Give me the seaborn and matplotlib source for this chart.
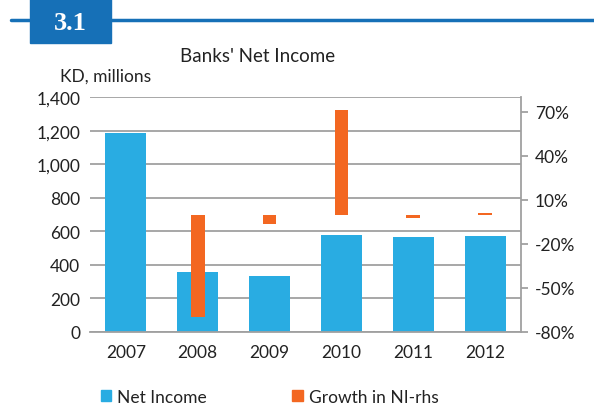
import matplotlib
matplotlib.use("Agg")
import matplotlib.pyplot as plt
import seaborn as sns
import numpy as np
import pandas as pd
from matplotlib.patches import Rectangle, Patch
from matplotlib.lines import Line2D
from matplotlib.ticker import FuncFormatter

years = ["2007", "2008", "2009", "2010", "2011", "2012"]
net_income = [1185, 357, 334, 578, 566, 573]
growth = [np.nan, -69.9, -6.3, 71.5, -2.2, 1.3]
left_ticks = [0, 200, 400, 600, 800, 1000, 1200, 1400]
right_ticks = [-80, -50, -20, 10, 40, 70]

BLUE = "#29ACE2"
ORANGE = "#F36721"
HEADER = "#1670B7"
GRID = "#A0A0A0"
TXT = "#222222"

sns.set_theme(style="white")
plt.rcParams["font.family"] = ["Lato", "DejaVu Sans"]

W, H = 594, 410
fig = plt.figure(figsize=(W / 100, H / 100), dpi=100)

x0, x1, ytop, ybot = 90, 521, 98.3, 332.7
ax = fig.add_axes([x0 / W, 1 - ybot / H, (x1 - x0) / W, (ybot - ytop) / H])

df = pd.DataFrame({"year": years, "ni": net_income, "g": growth})
sns.barplot(data=df, x="year", y="ni", ax=ax, color=BLUE, width=0.57,
            saturation=1, linewidth=0)
ax.set_ylim(0, 1400)
ax.set_xlim(-0.5, 5.5)
ax.set_yticks(left_ticks)
ax.yaxis.set_major_formatter(FuncFormatter(lambda v, p: f"{int(v):,}"))
ax.grid(axis="y", color=GRID, linewidth=1.3)
ax.set_axisbelow(True)
ax.set_xlabel("")
ax.set_ylabel("")
for s in ["left", "top", "right"]:
    ax.spines[s].set_visible(False)
ax.spines["bottom"].set_color(GRID)
ax.spines["bottom"].set_linewidth(1.3)
ax.tick_params(axis="y", length=0, pad=7, labelsize=12.5, labelcolor=TXT)
ax.tick_params(axis="x", length=0, pad=9, labelsize=12.5, labelcolor=TXT)

ax2 = ax.twinx()
sns.barplot(data=df, x="year", y="g", ax=ax2, color=ORANGE, width=0.19,
            saturation=1, linewidth=0)
ax2.set_ylim(-80, 80)
ax2.set_xlim(-0.5, 5.5)
ax2.set_yticks(right_ticks)
ax2.yaxis.set_major_formatter(FuncFormatter(lambda v, p: f"{int(v)}%"))
ax2.set_ylabel("")
ax2.set_xlabel("")
for s in ["left", "top", "bottom"]:
    ax2.spines[s].set_visible(False)
ax2.spines["right"].set_color(GRID)
ax2.spines["right"].set_linewidth(1.3)
ax2.tick_params(axis="y", length=5, width=1.3, color=GRID, pad=5,
                labelsize=12.5, labelcolor=TXT)

# header
fig.add_artist(Line2D([11 / W, 1], [1 - 20.7 / H, 1 - 20.7 / H],
                      color=HEADER, linewidth=2.5, transform=fig.transFigure))
fig.add_artist(Rectangle((30 / W, 1 - 44 / H), 81 / W, 44 / H,
                         color=HEADER, transform=fig.transFigure, zorder=3))
fig.text(70 / W, 1 - 23 / H, "3.1", color="white", fontsize=19,
         fontweight="bold", family=["Liberation Serif", "DejaVu Serif"],
         ha="center", va="center", zorder=4)

fig.text(258 / W, 1 - 57 / H, "Banks' Net Income", ha="center", va="center",
         fontsize=13.5, color=TXT)
fig.text(60 / W, 1 - 77 / H, "KD, millions", ha="left", va="center",
         fontsize=12.5, color=TXT)

handles = [Patch(color=BLUE, label="Net Income"),
           Patch(color=ORANGE, label="Growth in NI-rhs")]
fig.legend(handles=handles, loc="center left", bbox_to_anchor=(101 / W, 1 - 398 / H),
           ncol=2, frameon=False, fontsize=12.5, handlelength=0.6,
           handleheight=0.6, handletextpad=0.35, columnspacing=4.9,
           borderpad=0, borderaxespad=0, labelcolor=TXT)

fig.savefig("out.png", dpi=100)
